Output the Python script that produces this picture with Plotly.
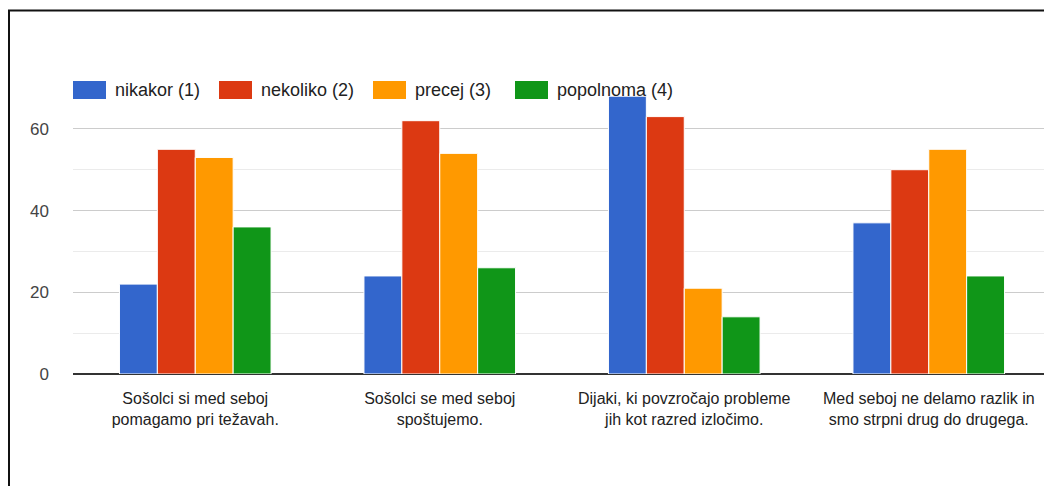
import plotly.graph_objects as go

categories = [
    "Sošolci si med seboj<br>pomagamo pri težavah.",
    "Sošolci se med seboj<br>spoštujemo.",
    "Dijaki, ki povzročajo probleme<br>jih kot razred izločimo.",
    "Med seboj ne delamo razlik in<br>smo strpni drug do drugega.",
]
series_names = ["nikakor (1)", "nekoliko (2)", "precej (3)", "popolnoma (4)"]
nikakor = [22, 24, 68, 37]
nekoliko = [55, 62, 63, 50]
precej = [53, 54, 21, 55]
popolnoma = [36, 26, 14, 24]
colors = ["#3366CC", "#DC3912", "#FF9900", "#109618"]
y_ticks = [0, 20, 40, 60]

# page is rendered with an 8px body margin; work in page pixels and offset
OFF = 8
W, H = 1052, 486
L, R, T, B = 73 - OFF, 1 + OFF, 88 - OFF, 112 + OFF
PW, PH = W - L - R, H - T - B

def px_x(px):
    return (px - OFF - L) / PW

def px_y(py):
    return (H - B - (py - OFF)) / PH

fig = go.Figure()
for name, vals, col in zip(series_names, [nikakor, nekoliko, precej, popolnoma], colors):
    fig.add_trace(go.Bar(
        x=categories, y=vals, name=name,
        marker=dict(color=col, line=dict(color="white", width=1)),
        showlegend=False,
    ))

shapes = []
annotations = []
# custom legend
sw_x = [73, 219, 373, 515]
for name, col, x0 in zip(series_names, colors, sw_x):
    shapes.append(dict(type="rect", xref="paper", yref="paper",
                       x0=px_x(x0), x1=px_x(x0 + 33), y0=px_y(99), y1=px_y(81),
                       fillcolor=col, line=dict(width=0), layer="above"))
    annotations.append(dict(xref="paper", yref="paper", x=px_x(x0 + 40), y=px_y(90),
                            text=name, showarrow=False, xanchor="left", yanchor="middle",
                            font=dict(family="Arial, Liberation Sans", size=18, color="#222222")))

# frame lines
shapes.append(dict(type="line", xref="paper", yref="paper", x0=px_x(7), x1=px_x(1060),
                   y0=px_y(10.5), y1=px_y(10.5), line=dict(color="#111111", width=2)))
shapes.append(dict(type="line", xref="paper", yref="paper", x0=px_x(8.5), x1=px_x(8.5),
                   y0=px_y(10), y1=px_y(500), line=dict(color="#111111", width=3)))
shapes.append(dict(type="line", xref="paper", yref="paper", x0=px_x(1051), x1=px_x(1051),
                   y0=px_y(11), y1=px_y(500), line=dict(color="#aaaaaa", width=1.5)))

fig.update_layout(
    width=W, height=H,
    margin=dict(l=L, r=R, t=T, b=B),
    paper_bgcolor="white", plot_bgcolor="white",
    barmode="group", bargap=0.38, bargroupgap=0,
    shapes=shapes, annotations=annotations,
    font=dict(family="Arial, Liberation Sans", color="#222222"),
    xaxis=dict(showgrid=False, showline=False, ticks="", ticklabelstandoff=13,
               tickfont=dict(size=16, color="#222222")),
    yaxis=dict(range=[0, 70], tickvals=y_ticks, showgrid=True, gridcolor="#cccccc", gridwidth=1,
               minor=dict(dtick=10, showgrid=True, gridcolor="#ebebeb", gridwidth=1),
               zeroline=True, zerolinecolor="#333333", zerolinewidth=2,
               tickfont=dict(size=17, color="#444444"), ticklabelstandoff=23, showline=False),
)

fig.write_html("out.html")
